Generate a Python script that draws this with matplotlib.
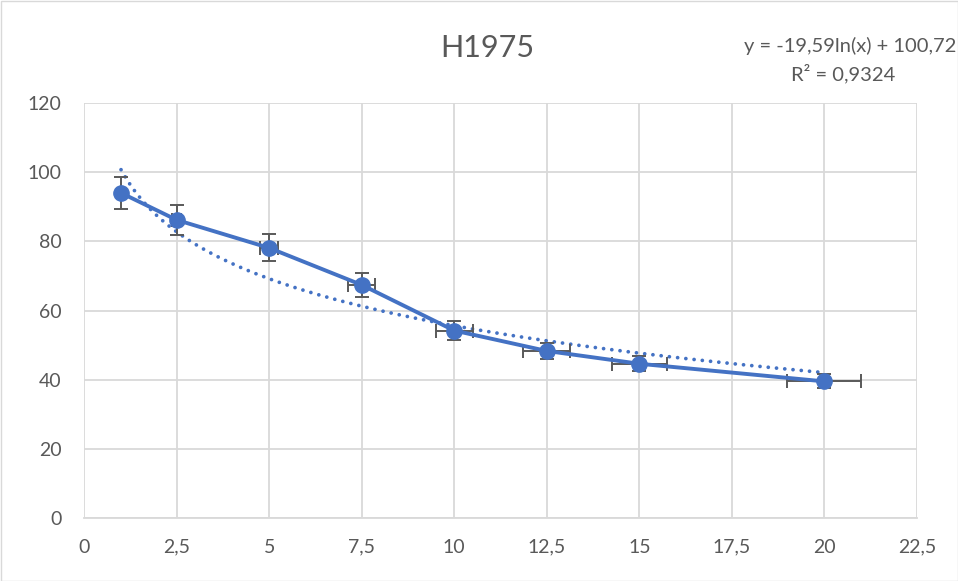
import numpy as np
import matplotlib
matplotlib.use("Agg")
import matplotlib.pyplot as plt
from matplotlib.ticker import FuncFormatter, MultipleLocator
from matplotlib.patches import Rectangle

x = [1, 2.5, 5, 7.5, 10, 12.5, 15, 20]
y = [94.0, 86.2, 78.1, 67.4, 54.2, 48.3, 44.6, 39.5]
y_err = [4.7, 4.3, 3.9, 3.4, 2.7, 2.4, 2.2, 2.0]
x_err = [0.05, 0.12, 0.25, 0.37, 0.5, 0.63, 0.75, 1.0]
fit_a, fit_b = -19.59, 100.72
r2 = 0.9324
title = "H1975"

blue = "#4472C4"
gray_txt = "#595959"
grid_c = "#D9D9D9"

plt.rcParams['font.family'] = ['Lato', 'DejaVu Sans']

fig = plt.figure(figsize=(9.58, 5.81), dpi=100)
ax = fig.add_axes([84/958, 1 - 518/581, (917-84)/958, (518-103)/581])

ax.set_xlim(0, 22.5)
ax.set_ylim(0, 120)
ax.xaxis.set_major_locator(MultipleLocator(2.5))
ax.yaxis.set_major_locator(MultipleLocator(20))
fmt = FuncFormatter(lambda v, p: ("%g" % v).replace(".", ","))
ax.xaxis.set_major_formatter(fmt)
ax.yaxis.set_major_formatter(fmt)
ax.grid(True, color=grid_c, linewidth=1.3)
ax.set_axisbelow(True)
for s in ["top", "right", "left"]:
    ax.spines[s].set_visible(False)
ax.spines["bottom"].set_color(grid_c)
ax.spines["bottom"].set_linewidth(1.3)
ax.tick_params(length=0, labelsize=14, colors=gray_txt)
ax.tick_params(axis="y", pad=16)
ax.tick_params(axis="x", pad=15)

# trendline
xt = np.linspace(x[0], x[-1], 300)
ax.plot(xt, fit_a * np.log(xt) + fit_b, linestyle=(0, (0.01, 2.2)), color=blue,
        linewidth=2.7, dash_capstyle="round", zorder=2)

ax.errorbar(x, y, yerr=y_err, xerr=x_err, fmt="none", ecolor=gray_txt,
            elinewidth=1.4, capsize=5, capthick=1.4, zorder=3)
ax.plot(x, y, color=blue, linewidth=2.8, marker="o", markersize=11, zorder=4)

fig.text(487/958, 1 - 48/581, title, ha="center", va="center", fontsize=22, color=gray_txt)
fig.text(956/958, 1 - 46/581, "y = -19,59ln(x) + 100,72", ha="right", va="center",
         fontsize=14.5, color=gray_txt)
fig.text(843/958, 1 - 74/581, "R² = 0,9324", ha="center", va="center",
         fontsize=14.5, color=gray_txt)

fig.patches.append(Rectangle((0.5/958, 0.5/581), 1 - 1/958, 1 - 1/581, transform=fig.transFigure,
                             fill=False, edgecolor="#D9D9D9", linewidth=1))

fig.savefig("out.png", dpi=100)
